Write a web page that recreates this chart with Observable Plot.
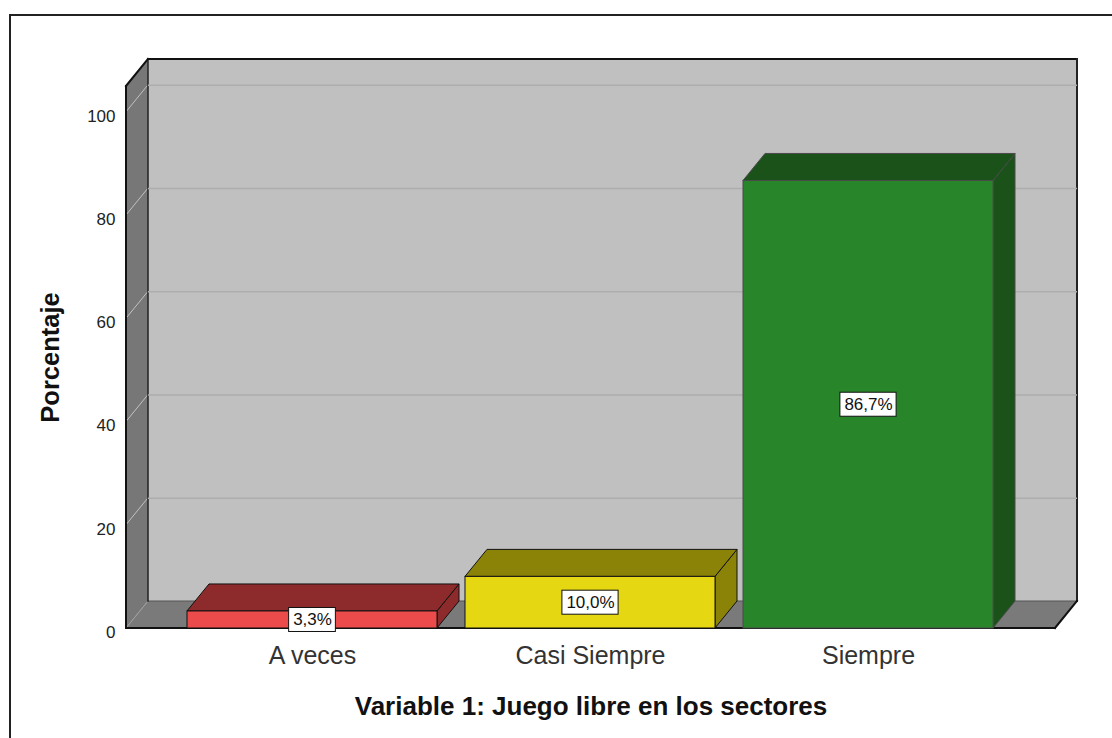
<!DOCTYPE html>
<html><head><meta charset="utf-8">
<script src="https://cdn.jsdelivr.net/npm/d3@7"></script>
<script src="https://cdn.jsdelivr.net/npm/@observablehq/plot@0.6"></script>
<style>
body{margin:0;background:#fff;overflow:hidden}
#wrap{position:relative;width:1112px;height:738px;overflow:hidden}
#border{position:absolute;left:9px;top:14px;width:1200px;height:800px;border-left:2px solid #222;border-top:2px solid #222;pointer-events:none}
</style></head><body>
<div id="wrap"><div id="chart"></div><div id="border"></div></div>
<script>
const categories = ["A veces", "Casi Siempre", "Siempre"];
const percentages = [3.3, 10.0, 86.7];
const yTicks = [0, 20, 40, 60, 80, 100];
const gridTicks = [20, 40, 60, 80, 100];
const frontColors = ["#ec4b4b", "#e5d812", "#288529"];
const darkColors = ["#8d2b2c", "#8b8307", "#1a521a"];
const edgeColors = ["#111111", "#111111", "#4a4a4a"];
const xTitle = "Variable 1: Juego libre en los sectores";
const yTitle = "Porcentaje";

const DX = 22, DY = -27;
const FONT = "'Liberation Sans', Arial, Helvetica, sans-serif";

const rows = categories.map((c, i) => ({
  cat: c, pct: percentages[i], idx: i,
  label: percentages[i].toFixed(1).replace(".", ",") + "%"
}));

function poly(g, pts, fill, stroke, sw = 1) {
  g.append("path").attr("d", "M" + pts.map(p => p.join(",")).join("L") + "Z")
    .attr("fill", fill).attr("stroke", stroke).attr("stroke-width", sw).attr("stroke-linejoin", "round");
}
function line(g, x1, y1, x2, y2, stroke, sw) {
  g.append("line").attr("x1", x1).attr("y1", y1).attr("x2", x2).attr("y2", y2)
    .attr("stroke", stroke).attr("stroke-width", sw).attr("stroke-linecap", "square");
}

function walls(index, scales, values, dim) {
  const y = scales.y;
  const x0 = dim.marginLeft, x1 = dim.width - dim.marginRight;
  const yb = y(0), yt = dim.marginTop;
  const g = d3.create("svg:g");
  poly(g, [[x0 + DX, yt + DY], [x1 + DX, yt + DY], [x1 + DX, yb + DY], [x0 + DX, yb + DY]], "#c0c0c0", "none");
  poly(g, [[x0, yb], [x0, yt], [x0 + DX, yt + DY], [x0 + DX, yb + DY]], "#777777", "none");
  poly(g, [[x0, yb], [x1, yb], [x1 + DX, yb + DY], [x0 + DX, yb + DY]], "#7a7a7a", "none");
  for (const t of gridTicks) line(g, x0, y(t), x0 + DX, y(t) + DY, "#c2c2c2", 1);
  line(g, x0, yb, x0 + DX, yb + DY, "#a0a0a0", 1);
  line(g, x0 + DX, yb + DY, x1 + DX, yb + DY, "#555", 1);
  line(g, x0 + DX, yt + DY, x0 + DX, yb + DY, "#222", 1.5);
  line(g, x0, yt, x0, yb, "#111", 2);
  line(g, x0, yt, x0 + DX, yt + DY, "#111", 2);
  line(g, x0 + DX, yt + DY, x1 + DX, yt + DY, "#111", 2);
  line(g, x1 + DX, yt + DY, x1 + DX, yb + DY, "#222", 2);
  line(g, x0, yb, x1, yb, "#111", 2);
  line(g, x1, yb, x1 + DX, yb + DY, "#111", 2);
  return g.node();
}

function bars3d(index, scales) {
  const {x, y} = scales;
  const bw = x.bandwidth();
  const g = d3.create("svg:g");
  rows.forEach((r, i) => {
    const a = x(r.cat), b = a + bw, top = y(r.pct), base = y(0);
    poly(g, [[b, base], [b, top], [b + DX, top + DY], [b + DX, base + DY]], darkColors[i], edgeColors[i]);
    poly(g, [[a, top], [b, top], [b + DX, top + DY], [a + DX, top + DY]], darkColors[i], edgeColors[i]);
  });
  return g.node();
}

const ctx = document.createElement("canvas").getContext("2d");
ctx.font = `17px ${FONT}`;
function labelBoxes(index, scales) {
  const {x, y} = scales;
  const bw = x.bandwidth();
  const g = d3.create("svg:g");
  rows.forEach(r => {
    const w = ctx.measureText(r.label).width + 8, h = 24;
    const cx = x(r.cat) + bw / 2, cy = y(r.pct / 2);
    g.append("rect").attr("x", cx - w / 2).attr("y", cy - h / 2).attr("width", w).attr("height", h)
      .attr("fill", "#fff").attr("stroke", "#111").attr("stroke-width", 1);
  });
  return g.node();
}

const chart = Plot.plot({
  width: 1112,
  height: 738,
  marginLeft: 126,
  marginRight: 57,
  marginTop: 86,
  marginBottom: 110,
  style: {fontFamily: FONT, background: "transparent"},
  x: {domain: categories, paddingInner: 0.1, paddingOuter: 0.215, axis: null},
  y: {domain: [0, 105], axis: null},
  color: {type: "identity"},
  marks: [
    walls,
    Plot.ruleY(gridTicks, {dx: DX, dy: DY, stroke: "#adadad", strokeWidth: 1.5}),
    bars3d,
    Plot.barY(rows, {x: "cat", y: "pct", fill: d => frontColors[d.idx], stroke: d => edgeColors[d.idx], strokeWidth: 1}),
    labelBoxes,
    Plot.text(rows, {x: "cat", y: d => d.pct / 2, text: "label", fontSize: 17, fill: "#111", lineAnchor: "middle"}),
    Plot.text(yTicks, {y: d => d, text: d => String(d), frameAnchor: "left", textAnchor: "end", lineAnchor: "middle", dx: -11, dy: 4, fontSize: 17, fill: "#222"}),
    Plot.text(categories, {x: d => d, text: d => d, frameAnchor: "bottom", textAnchor: "middle", lineAnchor: "middle", dy: 27, fontSize: 25, fill: "#333"}),
    Plot.text([xTitle], {text: d => d, frameAnchor: "bottom", textAnchor: "middle", lineAnchor: "middle", dy: 78, fontSize: 26, fontWeight: "bold", fill: "#111"}),
    Plot.text([yTitle], {text: d => d, frameAnchor: "left", textAnchor: "middle", lineAnchor: "middle", dx: -76, rotate: -90, fontSize: 25.5, fontWeight: "bold", fill: "#111"})
  ]
});
document.getElementById("chart").appendChild(chart);
</script>
</body></html>
